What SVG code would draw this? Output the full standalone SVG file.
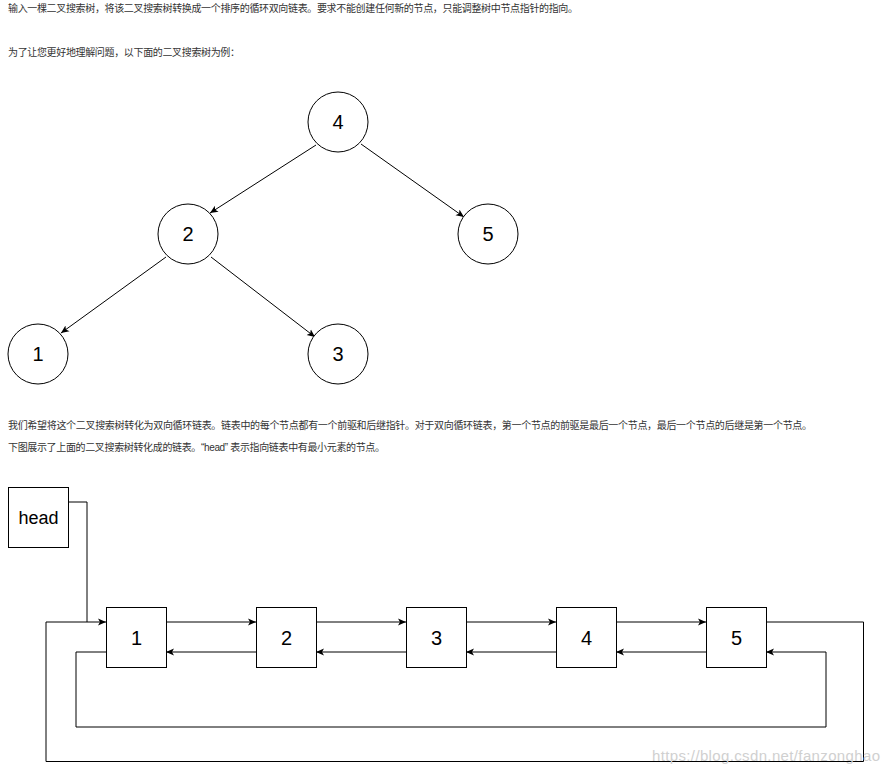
<svg xmlns="http://www.w3.org/2000/svg" width="891" height="773" viewBox="0 0 891 773">
<style>
.t{font-family:"Liberation Sans","Noto Sans CJK SC",sans-serif;font-size:10px;fill:#333}
.n{fill:#fff;stroke:#000;stroke-width:1}
.lbl{font-family:"Liberation Sans",Arial,sans-serif;font-size:20px;fill:#000;text-anchor:middle;dominant-baseline:central}
.c{fill:none;stroke:#000;stroke-width:1}
.wm{font-family:"Liberation Sans",Arial,sans-serif;font-size:15px;fill:#d0d0d0}
</style>
<defs>
<marker id="a" markerUnits="userSpaceOnUse" markerWidth="10" markerHeight="10" refX="8" refY="4" orient="auto">
<path d="M0,0.5 L8,4 L0,7.5 L2,4 z" fill="#000"/>
</marker>
</defs>
<rect width="891" height="773" fill="#fff"/>
<text class="t" x="8" y="12" textLength="570">输入一棵二叉搜索树，将该二叉搜索树转换成一个排序的循环双向链表。要求不能创建任何新的节点，只能调整树中节点指针的指向。</text>
<text class="t" x="8" y="56" textLength="232">为了让您更好地理解问题，以下面的二叉搜索树为例：</text>
<text class="t" x="8" y="429" textLength="804">我们希望将这个二叉搜索树转化为双向循环链表。链表中的每个节点都有一个前驱和后继指针。对于双向循环链表，第一个节点的前驱是最后一个节点，最后一个节点的后继是第一个节点。</text>
<text class="t" x="8" y="451" textLength="377">下图展示了上面的二叉搜索树转化成的链表。“head” 表示指向链表中有最小元素的节点。</text>

<g id="connectors">
<line class="c" x1="316" y1="145" x2="210" y2="213" marker-end="url(#a)"/>
<line class="c" x1="361" y1="144" x2="464" y2="217" marker-end="url(#a)"/>
<line class="c" x1="166" y1="257" x2="61" y2="333" marker-end="url(#a)"/>
<line class="c" x1="211" y1="257" x2="315" y2="337" marker-end="url(#a)"/>
<polyline class="c" points="68,502 87,502 87,622"/>
<line class="c" x1="166" y1="622" x2="256" y2="622" marker-end="url(#a)"/>
<line class="c" x1="316" y1="622" x2="406" y2="622" marker-end="url(#a)"/>
<line class="c" x1="466" y1="622" x2="556" y2="622" marker-end="url(#a)"/>
<line class="c" x1="616" y1="622" x2="706" y2="622" marker-end="url(#a)"/>
<line class="c" x1="256" y1="652" x2="166" y2="652" marker-end="url(#a)"/>
<line class="c" x1="406" y1="652" x2="316" y2="652" marker-end="url(#a)"/>
<line class="c" x1="556" y1="652" x2="466" y2="652" marker-end="url(#a)"/>
<line class="c" x1="706" y1="652" x2="616" y2="652" marker-end="url(#a)"/>
<polyline class="c" points="766,622 863.5,622 863.5,761.5 46,761.5 46,622 106,622" marker-end="url(#a)"/>
<polyline class="c" points="106,652 76,652 76,727 826,727 826,652 766,652" marker-end="url(#a)"/>
</g>

<g id="t4"><circle class="n" cx="338" cy="122" r="30"/><text class="lbl" x="338" y="122">4</text></g>
<g id="t2"><circle class="n" cx="188" cy="234" r="30"/><text class="lbl" x="188" y="234">2</text></g>
<g id="t5"><circle class="n" cx="488" cy="234" r="30"/><text class="lbl" x="488" y="234">5</text></g>
<g id="t1"><circle class="n" cx="38" cy="354" r="30"/><text class="lbl" x="38" y="354">1</text></g>
<g id="t3"><circle class="n" cx="338" cy="354" r="30"/><text class="lbl" x="338" y="354">3</text></g>

<g id="head"><rect class="n" x="8.5" y="487.5" width="60" height="60"/><text class="lbl" x="38.5" y="517.5" style="font-size:18px">head</text></g>
<g id="l1"><rect class="n" x="106.5" y="607.5" width="60" height="60"/><text class="lbl" x="136.5" y="637.5">1</text></g>
<g id="l2"><rect class="n" x="256.5" y="607.5" width="60" height="60"/><text class="lbl" x="286.5" y="637.5">2</text></g>
<g id="l3"><rect class="n" x="406.5" y="607.5" width="60" height="60"/><text class="lbl" x="436.5" y="637.5">3</text></g>
<g id="l4"><rect class="n" x="556.5" y="607.5" width="60" height="60"/><text class="lbl" x="586.5" y="637.5">4</text></g>
<g id="l5"><rect class="n" x="706.5" y="607.5" width="60" height="60"/><text class="lbl" x="736.5" y="637.5">5</text></g>

<text class="wm" x="652" y="761" textLength="228">https://blog.csdn.net/fanzonghao</text>
</svg>
